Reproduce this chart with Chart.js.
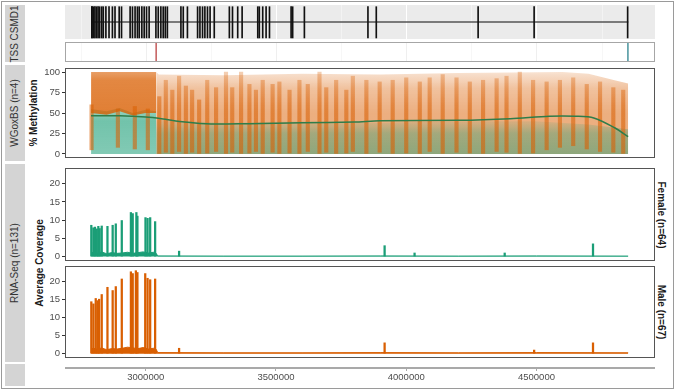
<!DOCTYPE html>
<html>
<head>
<meta charset="utf-8">
<script src="https://cdn.jsdelivr.net/npm/chart.js@4.4.1/dist/chart.umd.min.js"></script>
<style>
  body { margin: 0; background: #fff; font-family: "Liberation Sans", Arial, sans-serif; }
  #fig { position: relative; width: 675px; height: 391px; overflow: hidden; background: #fff; }
  canvas { position: absolute; }
  .frame { position: absolute; left: 1px; top: 1px; width: 671px; height: 386px; border: 1px solid #9a9a9a; }
  .strip { position: absolute; left: 5px; width: 20px; background: #d4d4d4; }
  .txt { position: absolute; white-space: nowrap; font-size: 10px; line-height: 1; }
  .left { transform: translate(-50%, -50%) rotate(-90deg); }
  .right { transform: translate(-50%, -50%) rotate(90deg); font-weight: bold; color: #1a1a1a; }
</style>
</head>
<body>
<div id="fig">
  <div class="frame"></div>
  <div class="strip" style="top:5px;height:57px"></div>
  <div class="strip" style="top:65px;height:96px"></div>
  <div class="strip" style="top:164px;height:198px"></div>
  <div class="strip" style="top:364px;height:22px"></div>
  <div class="txt left" style="left:15px;top:34px;color:#333">TSS CSMD1</div>
  <div class="txt left" style="left:15px;top:113px;color:#333">WGoxBS (n=4)</div>
  <div class="txt left" style="left:15px;top:263px;color:#333">RNA-Seq (n=131)</div>
  <div class="txt left" style="left:34px;top:113px;font-weight:bold;color:#1a1a1a">% Methylation</div>
  <div class="txt left" style="left:40px;top:263px;font-weight:bold;color:#1a1a1a">Average Coverage</div>
  <div class="txt right" style="left:661px;top:215px">Female (n=64)</div>
  <div class="txt right" style="left:661px;top:312px">Male (n=67)</div>

  <canvas id="gene" width="590" height="34" style="left:65px;top:5px"></canvas>
  <canvas id="tss" width="590" height="20" style="left:65px;top:42px"></canvas>
  <canvas id="meth" width="629" height="106" style="left:26px;top:60px"></canvas>
  <canvas id="female" width="629" height="109" style="left:26px;top:160px"></canvas>
  <canvas id="male" width="629" height="108" style="left:26px;top:258px"></canvas>
  <canvas id="axis" width="590" height="33" style="left:65px;top:358px"></canvas>
</div>
<script>
// genomic window (bp) and axis ticks
var xRange = [2690000, 4955000];
var xTicks = [3000000, 3500000, 4000000, 4500000];
var xMinorTicks = [2750000, 3250000, 3750000, 4250000, 4750000];

// CSMD1 gene model
var geneSpan = [2792875, 4852494];
var exons = [2793000, 2794000, 2800000, 2805000, 2811000, 2817000, 2823000, 2831000, 2837000,
  2847000, 2859000, 2872000, 2882000, 2898000, 2907000, 2940000, 2949000, 2959000, 2968000,
  2975000, 2985000, 2994000, 3003000, 3013000, 3039000, 3048000, 3058000, 3067000, 3075000,
  3083000, 3135000, 3144000, 3160000, 3199000, 3208000, 3218000, 3227000, 3237000, 3247000,
  3263000, 3321000, 3333000, 3353000, 3370000, 3430000, 3436000, 3449000, 3462000, 3475000,
  3558000, 3564000, 3609000, 3853000, 3885000, 4276000, 4491000, 4850000];
var tssPos = [3040000, 4851000];

// WGoxBS methylation (%)
var methTicks = [0, 25, 50, 75, 100];
var hazeX = [3040000, 3050000, 3300000, 3600000, 3900000, 4200000, 4600000, 4700000, 4800000, 4852000];
var hazeTop = [100, 97, 96, 98, 97, 99, 100, 98, 90, 86];
var coreX = [2790000, 2850000, 2900000, 2950000, 3000000, 3040000];
var coreLo = [50, 48, 52, 47, 50, 50];
var coreHi = [100, 100, 100, 100, 100, 100];
var greenCoreX = [2790000, 2850000, 2900000, 2950000, 3000000, 3040000];
var greenCoreHi = [55, 52, 56, 50, 54, 52];
var greenLowX = [3040000, 3300000, 3600000, 3900000, 4200000, 4500000, 4700000, 4852000];
var greenLowHi = [42, 38, 40, 38, 40, 40, 36, 30];
var streakX = [2792000, 2893000, 2958000, 3008000,
  3052000, 3077000, 3102000, 3128000, 3154000, 3178000, 3205000, 3236000, 3270000, 3308000,
  3332000, 3366000, 3398000, 3423000, 3449000, 3487000, 3513000, 3552000, 3590000, 3622000,
  3667000, 3693000, 3731000, 3770000, 3795000, 3847000, 3898000, 3948000, 4000000, 4052000,
  4090000, 4140000, 4193000, 4244000, 4295000, 4347000, 4385000, 4436000, 4487000, 4539000,
  4590000, 4641000, 4693000, 4744000, 4795000, 4833000];
var streakLo = [5, 8, 6, 5,
  0, 2, 0, 3, 0, 2, 0, 1, 3, 0, 2, 0, 1, 3, 0, 2, 0, 1, 0, 3, 0, 2, 0, 1, 3,
  0, 2, 0, 1, 0, 3, 0, 2, 1, 0, 3, 2, 0, 1, 5, 8, 10, 6, 3, 2, 0];
var streakHi = [60, 55, 58, 55,
  70, 90, 78, 95, 83, 78, 66, 90, 81, 100, 81, 100, 85, 78, 90, 85, 88, 78, 90, 85, 100,
  81, 90, 78, 95, 90, 88, 90, 93, 88, 93, 97, 93, 88, 90, 92, 95, 100, 90, 88, 90, 93,
  85, 88, 81, 78];
var trendX = [2790000, 2900000, 3000000, 3060000, 3150000, 3250000, 3400000, 3600000, 3800000,
  3900000, 4200000, 4400000, 4550000, 4650000, 4720000, 4800000, 4852000];
var trendY = [46.5, 46.5, 45, 43, 39, 36.5, 37, 38, 39, 40.5, 41, 43, 46, 46, 44, 32, 21];

// RNA-Seq average coverage
var covTicks = [0, 5, 10, 15, 20];
var femaleSpikeX = [2791000, 2799000, 2805000, 2812000, 2818000, 2823000, 2831000, 2853000,
  2873000, 2885000, 2908000, 2943000, 2950000, 2964000, 2968000, 2999000, 3007000, 3017000,
  3036000, 3128000, 3917000, 4032000, 4378000, 4717000];
var femaleSpikeY = [8.6, 7.9, 8.1, 7.6, 8.3, 7.7, 8.4, 8.3, 8.6, 9.0, 9.9, 12.1, 11.8, 12.1,
  11.1, 10.7, 10.5, 10.7, 9.6, 1.5, 3.0, 1.0, 1.0, 3.5];
var femaleBaseX = [2790000, 2800000, 2815000, 2830000, 2850000, 2870000, 2890000, 2910000,
  2930000, 2950000, 2970000, 2990000, 3010000, 3030000, 3040000, 3046000, 3300000, 3600000,
  3900000, 4200000, 4500000, 4852000];
var femaleBaseY = [1.0, 1.2, 0.9, 1.3, 0.8, 1.1, 0.9, 1.0, 1.2, 0.9, 1.1, 1.3, 1.0, 1.2, 0.9,
  0.2, 0.15, 0.15, 0.2, 0.15, 0.2, 0.15];
var maleSpikeX = [2791000, 2799000, 2808000, 2815000, 2821000, 2831000, 2853000, 2873000,
  2885000, 2908000, 2943000, 2950000, 2962000, 2968000, 2998000, 3007000, 3017000, 3036000,
  3128000, 3917000, 4491000, 4717000];
var maleSpikeY = [14.4, 13.8, 15.3, 14.7, 15.1, 16.4, 18.4, 17.5, 18.6, 20.7, 22.7, 22.2,
  23.0, 22.5, 22.2, 20.9, 20.5, 20.7, 1.5, 3.0, 1.0, 3.0];
var maleBaseX = femaleBaseX;
var maleBaseY = [1.3, 1.5, 1.2, 1.6, 1.1, 1.4, 1.3, 1.5, 1.8, 1.6, 1.4, 1.7, 1.3, 1.5, 1.2,
  0.3, 0.25, 0.25, 0.3, 0.25, 0.3, 0.25];

var GREEN = '#1b9e77', ORANGE = '#d95f02';
var tickFont = { family: '"Liberation Sans", Arial, sans-serif', size: 9.5 };

function pts(xs, ys) {
  return xs.map(function(x, i) { return { x: x, y: ys[i] }; });
}
function flat(xs, v) {
  return xs.map(function(x) { return { x: x, y: v }; });
}
// vertical fade: stops are [value, rgba]
function fade(stops) {
  return function(ctx) {
    var ch = ctx.chart, a = ch.chartArea;
    if (!a) return stops[0][1];
    var sy = ch.scales.y;
    var y0 = sy.getPixelForValue(sy.min), y1 = sy.getPixelForValue(sy.max);
    var g = ch.ctx.createLinearGradient(0, y0, 0, y1);
    stops.forEach(function(s) { g.addColorStop((s[0] - sy.min) / (sy.max - sy.min), s[1]); });
    return g;
  };
}

// panel background, gridlines and border
Chart.register({
  id: 'panel',
  beforeDraw: function(chart, args, o) {
    var a = chart.chartArea, c = chart.ctx, sx = chart.scales.x;
    if (o.bg) { c.fillStyle = o.bg; c.fillRect(a.left, a.top, a.width, a.height); }
    (o.grid || []).forEach(function(g) {
      g.values.forEach(function(v) {
        var px = Math.round(sx.getPixelForValue(v)) + 0.5;
        c.strokeStyle = g.color; c.lineWidth = 1;
        c.beginPath(); c.moveTo(px, a.top); c.lineTo(px, a.bottom); c.stroke();
      });
    });
  },
  afterDraw: function(chart, args, o) {
    if (!o.border) return;
    var a = chart.chartArea, c = chart.ctx;
    c.strokeStyle = o.border; c.lineWidth = 1;
    c.strokeRect(Math.round(a.left) + 0.5, Math.round(a.top) + 0.5, Math.round(a.width) - 1, Math.round(a.height) - 1);
  }
});

function xAxis() {
  return { type: 'linear', min: xRange[0], max: xRange[1], offset: false, display: false };
}
function yAxis(min, max, ticks) {
  return {
    type: 'linear', min: min, max: max, position: 'left',
    afterBuildTicks: function(s) { s.ticks = ticks.map(function(v) { return { value: v }; }); },
    afterFit: function(s) { s.width = 39; },
    border: { display: false },
    grid: { drawOnChartArea: false, tickLength: 3, color: '#333' },
    ticks: { font: tickFont, color: '#4d4d4d', padding: 2 }
  };
}
function base(pad) {
  return {
    responsive: false, animation: false, events: [],
    layout: { padding: pad },
    plugins: { legend: { display: false }, tooltip: { enabled: false } }
  };
}
var PAD = { top: 8, bottom: 8, left: 0, right: 0 };

// gene model track
var geneOpts = base(0);
geneOpts.scales = { x: xAxis(), y: { display: false, min: 0, max: 1 } };
geneOpts.plugins.panel = { bg: '#ebebeb', grid: [{ values: xMinorTicks, color: '#f3f3f3' }, { values: xTicks, color: '#ffffff' }] };
new Chart(document.getElementById('gene'), {
  type: 'bar',
  data: { datasets: [
    { data: exons.map(function(x) { return { x: x, y: [0.03, 0.95] }; }), backgroundColor: '#111',
      barThickness: 1, grouped: false, order: 0 },
    { type: 'line', data: flat(geneSpan, 0.5), borderColor: '#555', borderWidth: 1.5, pointRadius: 0, order: 1 }
  ]},
  options: geneOpts
});

// TSS track
var tssOpts = base(0);
tssOpts.scales = { x: xAxis(), y: { display: false, min: 0, max: 1 } };
tssOpts.plugins.panel = { border: '#a6a6a6', grid: [{ values: xMinorTicks, color: '#f7f7f7' }, { values: xTicks, color: '#efefef' }] };
new Chart(document.getElementById('tss'), {
  type: 'bar',
  data: { datasets: [{
    data: tssPos.map(function(x) { return { x: x, y: [0, 1] }; }),
    backgroundColor: ['#c96a6a', '#5a9ea6'], barThickness: 1, grouped: false
  }]},
  options: tssOpts
});

// methylation panel
var methOpts = base(PAD);
methOpts.scales = { x: xAxis(), y: yAxis(-5, 105, methTicks) };
methOpts.plugins.panel = { border: '#555' };
new Chart(document.getElementById('meth'), {
  type: 'bar',
  data: { datasets: [
    { type: 'line', data: pts(trendX, trendY), borderColor: '#2f7d4a', borderWidth: 1.5, pointRadius: 0, tension: 0.3, order: 0 },
    { data: streakX.map(function(x, i) { return { x: x, y: [streakLo[i], streakHi[i]] }; }),
      backgroundColor: fade([[0, 'rgba(217,95,2,0.6)'], [60, 'rgba(217,95,2,0.55)'], [100, 'rgba(217,95,2,0.3)']]),
      barThickness: 3.5, grouped: false, order: 1 },
    { type: 'line', data: pts(coreX, coreHi), pointRadius: 0, borderWidth: 0, order: 4, fill: false },
    { type: 'line', data: pts(coreX, coreLo), pointRadius: 0, borderWidth: 0, order: 2, fill: '-1',
      backgroundColor: fade([[50, 'rgba(217,95,2,0.8)'], [90, 'rgba(217,95,2,0.75)'], [100, 'rgba(217,95,2,0.6)']]) },
    { type: 'line', data: flat(greenCoreX, 0), pointRadius: 0, borderWidth: 0, order: 6 },
    { type: 'line', data: pts(greenCoreX, greenCoreHi), pointRadius: 0, borderWidth: 0, order: 5, fill: '-1',
      backgroundColor: fade([[0, 'rgba(27,158,119,0.55)'], [40, 'rgba(27,158,119,0.62)'], [55, 'rgba(27,158,119,0.45)']]) },
    { type: 'line', data: flat(greenLowX, 0), pointRadius: 0, borderWidth: 0, order: 6 },
    { type: 'line', data: pts(greenLowX, greenLowHi), pointRadius: 0, borderWidth: 0, order: 5, fill: '-1',
      backgroundColor: fade([[0, 'rgba(27,158,119,0.45)'], [25, 'rgba(27,158,119,0.35)'], [42, 'rgba(27,158,119,0.05)']]) },
    { type: 'line', data: flat(hazeX, 0), pointRadius: 0, borderWidth: 0, order: 9 },
    { type: 'line', data: pts(hazeX, hazeTop), pointRadius: 0, borderWidth: 0, order: 8, fill: '-1',
      backgroundColor: fade([[0, 'rgba(217,95,2,0.5)'], [50, 'rgba(217,95,2,0.5)'], [80, 'rgba(217,95,2,0.38)'], [100, 'rgba(217,95,2,0.18)']]) }
  ]},
  options: methOpts
});

// coverage panels
function coverage(id, color, spikeX, spikeY, baseX, baseY) {
  var o = base(PAD);
  o.scales = { x: xAxis(), y: yAxis(-1.2, 24.3, covTicks) };
  o.plugins.panel = { border: '#555' };
  new Chart(document.getElementById(id), {
    type: 'bar',
    data: { datasets: [
      { data: pts(spikeX, spikeY).map(function(p) { return { x: p.x, y: [0, p.y] }; }),
        backgroundColor: color, barThickness: 1.6, grouped: false, order: 0 },
      { type: 'line', data: pts(baseX, baseY), borderColor: color, backgroundColor: color,
        borderWidth: 1, pointRadius: 0, fill: 'origin', order: 1 }
    ]},
    options: o
  });
}
coverage('female', GREEN, femaleSpikeX, femaleSpikeY, femaleBaseX, femaleBaseY);
coverage('male', ORANGE, maleSpikeX, maleSpikeY, maleBaseX, maleBaseY);

// shared x axis
var axisOpts = base(0);
axisOpts.scales = {
  x: {
    type: 'linear', min: xRange[0], max: xRange[1], offset: false, position: 'bottom',
    afterBuildTicks: function(s) { s.ticks = xTicks.map(function(v) { return { value: v }; }); },
    afterFit: function(s) { s.height = 23; },
    border: { color: '#a9a9a9', width: 2 },
    grid: { drawOnChartArea: false, tickLength: 3, color: '#a9a9a9' },
    ticks: { font: tickFont, color: '#4d4d4d', padding: 1, maxRotation: 0,
      callback: function(v) { return String(v); } }
  },
  y: { display: false, min: 0, max: 1 }
};
new Chart(document.getElementById('axis'), {
  type: 'scatter',
  data: { datasets: [{ data: [] }] },
  options: axisOpts
});
</script>
</body>
</html>
